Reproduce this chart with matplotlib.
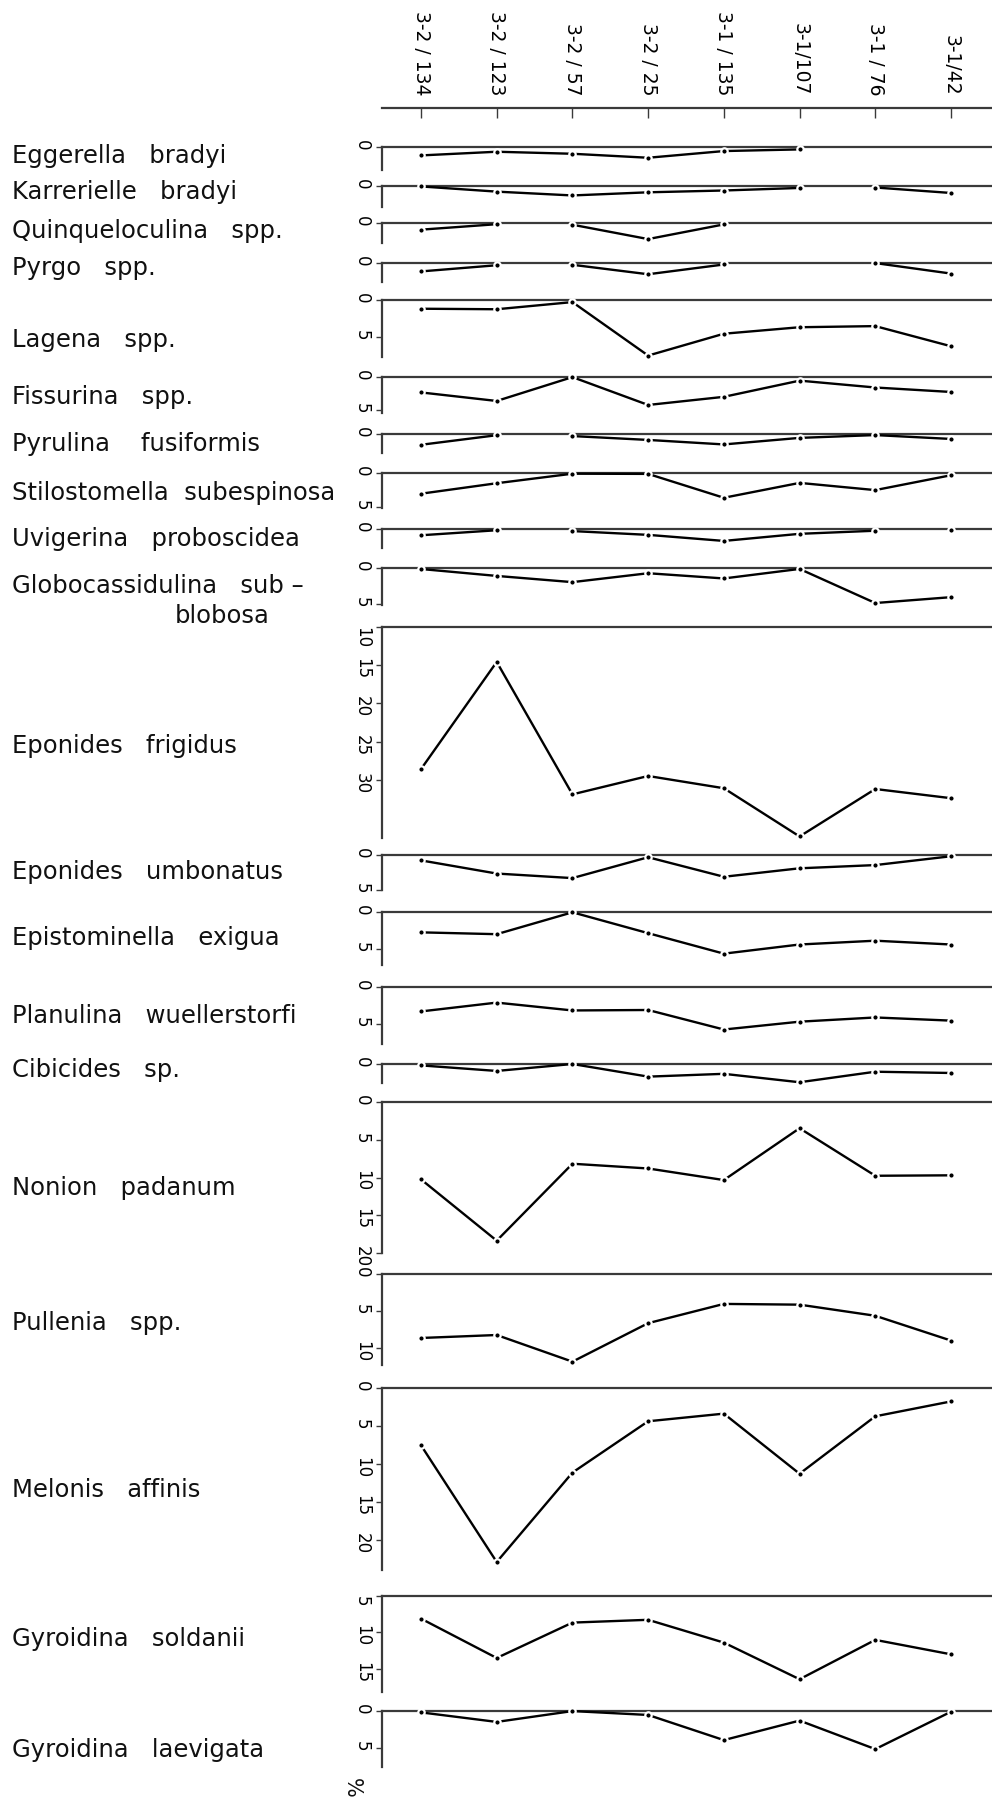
import numpy as np
import matplotlib
matplotlib.use("Agg")
import matplotlib.pyplot as plt
from matplotlib.transforms import ScaledTranslation

nan = np.nan

# ---------------- data ----------------
samples = ["3-2 / 134", "3-2 / 123", "3-2 / 57", "3-2 / 25",
           "3-1 / 135", "3-1/107", "3-1 / 76", "3-1/42"]

species = ["Eggerella   bradyi", "Karrerielle   bradyi", "Quinqueloculina   spp.",
           "Pyrgo   spp.", "Lagena   spp.", "Fissurina   spp.", "Pyrulina    fusiformis",
           "Stilostomella  subespinosa", "Uvigerina   proboscidea",
           "Globocassidulina   sub –", "Eponides   frigidus", "Eponides   umbonatus",
           "Epistominella   exigua", "Planulina   wuellerstorfi", "Cibicides   sp.",
           "Nonion   padanum", "Pullenia   spp.", "Melonis   affinis",
           "Gyroidina   soldanii", "Gyroidina   laevigata"]

eggerella      = [1.16, 0.67, 0.94, 1.47, 0.58, 0.36, nan, nan]
karrerielle    = [0.10, 0.79, 1.30, 0.88, 0.64, 0.30, 0.24, 0.97]
quinqueloculina = [0.86, 0.12, 0.19, 2.13, 0.15, nan, nan, nan]
pyrgo          = [1.17, 0.34, 0.28, 1.55, 0.24, nan, 0.05, 1.46]
lagena         = [1.17, 1.24, 0.28, 7.45, 4.52, 3.65, 3.50, 6.20]
fissurina      = [2.36, 3.64, 0.06, 4.24, 3.02, 0.59, 1.62, 2.29]
pyrulina       = [1.49, 0.13, 0.25, 0.80, 1.44, 0.51, 0.11, 0.66]
stilostomella  = [3.06, 1.49, 0.06, 0.09, 3.67, 1.44, 2.52, 0.29]
uvigerina      = [0.91, 0.18, 0.30, 0.85, 1.73, 0.70, 0.25, 0.18]
globocassidulina = [0.10, 1.08, 1.96, 0.70, 1.44, 0.09, 4.92, 4.09]
e_frigidus     = [28.6, 14.6, 31.9, 29.5, 31.1, 37.4, 31.2, 32.4]
e_umbonatus    = [0.77, 2.65, 3.30, 0.32, 3.11, 1.90, 1.44, 0.18]
epistominella  = [2.74, 2.99, 0.00, 2.85, 5.65, 4.40, 3.88, 4.40]
planulina      = [3.28, 2.11, 3.15, 3.09, 5.68, 4.64, 4.08, 4.50]
cibicides      = [0.20, 0.99, 0.00, 1.80, 1.40, 2.60, 1.10, 1.28]
nonion         = [10.25, 18.4, 8.17, 8.80, 10.34, 3.45, 9.77, 9.71]
pullenia       = [8.60, 8.20, 11.8, 6.60, 4.00, 4.10, 5.60, 8.95]
melonis        = [7.55, 22.85, 11.13, 4.40, 3.40, 11.28, 3.75, 1.80]
g_soldanii     = [8.13, 13.5, 8.67, 8.29, 11.4, 16.4, 11.03, 13.0]
g_laevigata    = [0.19, 1.49, 0.01, 0.54, 3.97, 1.31, 5.20, 0.10]

values = [eggerella, karrerielle, quinqueloculina, pyrgo, lagena, fissurina,
          pyrulina, stilostomella, uvigerina, globocassidulina, e_frigidus,
          e_umbonatus, epistominella, planulina, cibicides, nonion, pullenia,
          melonis, g_soldanii, g_laevigata]

# segments i -> i+1 not connected in the original
gaps = [[], [5], [1], [1], [], [], [1], [], [1, 6], [], [],
        [], [], [], [], [], [], [], [], []]

# axis ranges (value at top line, value at bottom of spine) and tick values
yranges = [(0, 3.1), (0, 2.8), (0, 2.7), (0, 2.55), (0, 7.6), (0, 5.4), (0, 2.7),
           (0, 5.25), (0, 2.8), (0, 5.2), (10, 37.6), (0, 5.0), (0, 7.2), (0, 7.6),
           (0, 2.75), (0, 20), (0, 12.25), (0, 23.9), (5, 18.1), (0, 7.6)]
yticks = [[0], [0], [0], [0], [0, 5], [0, 5], [0], [0, 5], [0], [0, 5],
          [10, 15, 20, 25, 30], [0, 5], [0, 5], [0, 5], [0], [0, 5, 10, 15, 20],
          [0, 5, 10], [0, 5, 10, 15, 20], [5, 10, 15], [0, 5]]

# ---------------- layout (pixels) ----------------
W, H = 992, 1802
panel_px = [(146.7, 170), (185.7, 206.7), (223.3, 243.3), (262.7, 281.7),
            (300, 356.7), (376.7, 412.7), (434.3, 453.3), (473.3, 508.3),
            (529, 548.3), (568.3, 605), (626.7, 838), (855, 890),
            (912.3, 965), (986.7, 1044), (1064, 1083.3), (1102.3, 1252.7),
            (1274.3, 1365), (1387.7, 1570), (1595.7, 1691.7), (1711, 1766.7)]
label_y = [156, 192, 231, 268, 340, 396.7, 444, 493.3, 539, 586, 746,
           872, 938, 1016, 1070, 1188, 1323, 1490, 1639, 1750]
x_left, x_right = 382, 992
x_first, x_last = 421, 951
header_y = 108

fig = plt.figure(figsize=(W / 100, H / 100), dpi=100)
plt.rcParams['font.family'] = ['DejaVu Sans']

n = len(samples)
idx = np.arange(n)
step = (x_last - x_first) / (n - 1)
xlim = ((x_left - x_first) / step, (n - 1) + (x_right - x_last) / step)
spine_col = '#3a3a3a'


def fig_rect(top, bottom):
    return [x_left / W, 1 - bottom / H, (x_right - x_left) / W, (bottom - top) / H]


# header axis with sample labels
hax = fig.add_axes(fig_rect(header_y, header_y + 1))
hax.set_xlim(*xlim)
hax.set_ylim(0, 1)
for s in ['left', 'right', 'bottom']:
    hax.spines[s].set_visible(False)
hax.spines['top'].set_color(spine_col)
hax.spines['top'].set_linewidth(1.6)
hax.set_yticks([])
hax.set_xticks(idx)
hax.set_xticklabels(samples)
hax.tick_params(axis='x', top=True, bottom=False, labeltop=True, labelbottom=False,
                direction='in', length=7.5, width=1.0, color=spine_col,
                labelrotation=-90, labelsize=13.5, pad=9)

for k, vals in enumerate(values):
    top, bot = panel_px[k]
    ax = fig.add_axes(fig_rect(top, bot))
    ax.set_xlim(*xlim)
    y0, y1 = yranges[k]
    ax.set_ylim(y1, y0)
    ax.patch.set_alpha(0)
    for s in ['right', 'bottom']:
        ax.spines[s].set_visible(False)
    for s in ['left', 'top']:
        ax.spines[s].set_color(spine_col)
        ax.spines[s].set_linewidth(1.6)
    ax.set_xticks([])
    ax.set_yticks(yticks[k])
    ax.set_yticklabels([str(t) for t in yticks[k]])
    ax.tick_params(axis='y', direction='out', length=4, width=1.0, color=spine_col,
                   labelrotation=-90, labelsize=12, pad=4)
    # the label at the top line sits just below it in the original
    if yticks[k][0] == y0 and y0 > 0:
        lab = ax.get_yticklabels()[0]
        lab.set_transform(lab.get_transform() +
                          ScaledTranslation(0, -5 / 72, fig.dpi_scale_trans))
    v = np.array(vals, dtype=float)
    # split into connected runs
    starts = [0] + [g + 1 for g in gaps[k]]
    ends = [g + 1 for g in gaps[k]] + [n]
    for a, b in zip(starts, ends):
        ax.plot(idx[a:b], v[a:b], color='black', lw=1.7, solid_capstyle='butt',
                clip_on=False, zorder=3)
    ax.plot(idx, v, linestyle='none', marker='o', ms=4.6, mfc='black',
            mec='white', mew=1.6, clip_on=False, zorder=4)

    fig.text(12 / W, 1 - label_y[k] / H, species[k], fontsize=17.5,
             ha='left', va='center', color='#111')

# second line of Globocassidulina label
fig.text(270 / W, 1 - 616 / H, "blobosa", fontsize=17.5, ha='right', va='center',
         color='#111')

# percent sign
fig.text(352 / W, 1 - 1788 / H, "%", fontsize=15, rotation=-90, ha='center',
         va='center', color='#111')

fig.savefig("out.png", dpi=100, facecolor='white')
